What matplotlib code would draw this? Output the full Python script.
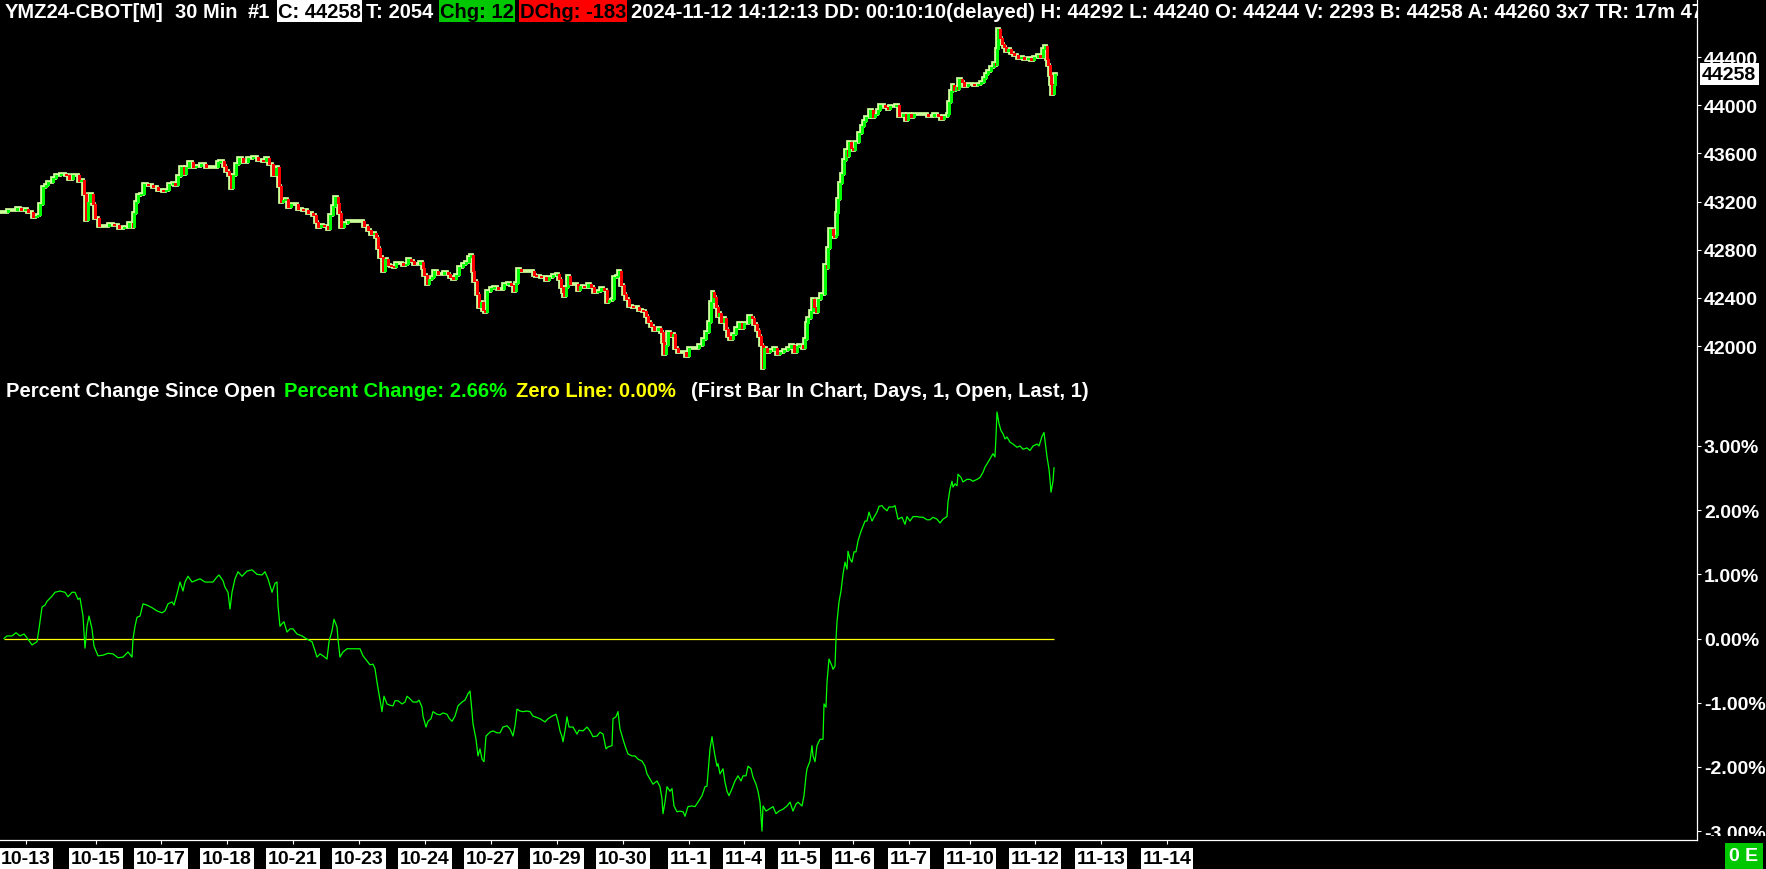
import matplotlib
matplotlib.use('Agg')
import matplotlib.pyplot as plt
from matplotlib import font_manager as fm
from matplotlib.lines import Line2D
from matplotlib.patches import Rectangle
from matplotlib.ticker import FuncFormatter
from matplotlib.transforms import Bbox, TransformedBbox
import numpy as np

W, H = 1766, 870

# ---- data ----
FIRST_OPEN = 43111.0     # open of first bar in chart
LAST_PRICE = 44258

bar_x = [
    4, 7, 12, 16, 20, 24, 27, 32, 35, 37, 39, 42, 45, 47, 52, 55, 60, 65, 68, 72,
    75, 78, 80, 83, 85, 87, 89, 92, 94, 98, 103, 108, 113, 118, 123, 128, 132, 133, 135, 137,
    140, 143, 147, 152, 157, 162, 165, 168, 172, 174, 177, 180, 183, 185, 188, 192, 195, 200, 205, 210,
    213, 217, 219, 223, 225, 228, 230, 232, 235, 238, 242, 247, 252, 257, 262, 265,
    268, 272, 275, 277, 278, 280, 282, 284, 287, 290, 293, 297, 302, 307, 312, 315, 317, 320, 323, 327,
    329, 332, 334, 337, 338, 340, 343, 347, 352, 357, 360, 363, 367, 370, 373, 375, 377, 379, 382, 384,
    387, 390, 393, 395, 398, 402, 405, 407, 410, 413, 417, 419, 422, 423, 426, 428, 431, 433, 437, 440,
    443, 447, 449, 452, 455, 458, 462, 465, 468, 470, 472, 473, 476, 478, 480, 482, 484, 486, 490, 493,
    497, 500, 503, 507, 510, 513, 515, 517, 520, 523, 527, 530, 533,
    535, 540, 545, 548, 552, 556, 558, 560, 562, 563, 565, 567, 569, 573, 577, 579, 583, 587, 590, 593,
    597, 600, 603, 606, 608, 612, 613, 616, 618, 620, 623, 625, 628, 632, 635, 638, 642, 645, 647, 650,
    653, 657, 660, 662, 663, 665, 667, 670, 672, 674, 677, 680, 683, 685, 688, 692, 695, 698, 702, 705,
    707, 708, 710, 712, 713, 715, 717, 718, 720, 723, 725, 727, 729, 732, 735, 738, 741, 743, 746, 748,
    751, 753, 756, 758, 760, 762, 763, 766, 769, 773, 776, 779, 783, 787, 790, 793, 796, 798,
    802, 804, 806, 807, 810, 812, 813, 815, 817, 820, 823, 824, 826, 827, 829, 832, 833, 835, 836, 837,
    839, 841, 843, 845, 847, 848, 850, 852, 854, 856, 858, 861, 863, 865, 867, 869, 872, 874, 877, 879,
    882, 884, 887, 889, 893, 895, 898, 902, 905, 907, 910, 913, 917, 920, 923, 927, 930, 933, 937, 940,
    943, 947, 948, 950, 952, 953, 955, 957, 958, 961, 963, 967, 970, 973, 977, 980, 983, 985, 987, 990,
    993, 995, 996, 997, 999, 1001, 1003, 1005, 1007, 1010, 1013, 1017, 1020, 1023, 1027, 1030, 1033, 1037, 1039, 1042,
    1044, 1046, 1047, 1049, 1050, 1051, 1053, 1054,
]

pct_change = [
    0.00, 0.04, 0.04, 0.09, 0.04, 0.07, 0.01, -0.10, -0.07, -0.05, 0.15, 0.49, 0.52, 0.58, 0.66, 0.72, 0.74, 0.72, 0.65, 0.72,
    0.72, 0.61, 0.63, 0.35, -0.15, 0.19, 0.35, 0.15, -0.12, -0.27, -0.26, -0.23, -0.24, -0.30, -0.29, -0.21, -0.29, -0.01, 0.19, 0.33,
    0.35, 0.54, 0.52, 0.48, 0.43, 0.40, 0.43, 0.54, 0.57, 0.52, 0.69, 0.88, 0.74, 0.88, 0.97, 0.88, 0.90, 0.93, 0.88, 0.88,
    0.88, 0.96, 0.99, 0.90, 0.80, 0.72, 0.46, 0.72, 0.93, 1.04, 0.97, 1.05, 1.07, 1.00, 0.99, 1.04,
    0.93, 0.72, 0.86, 0.88, 0.51, 0.19, 0.23, 0.26, 0.10, 0.15, 0.15, 0.07, 0.04, -0.01, -0.05, -0.19, -0.29, -0.24, -0.27, -0.32,
    -0.05, 0.12, 0.30, 0.18, -0.01, -0.29, -0.21, -0.16, -0.16, -0.16, -0.16, -0.27, -0.35, -0.41, -0.40, -0.47, -0.68, -0.86, -1.14, -0.90,
    -1.02, -1.04, -1.05, -0.97, -0.97, -1.02, -0.99, -0.90, -0.94, -0.99, -0.99, -0.96, -1.07, -1.21, -1.38, -1.29, -1.25, -1.14, -1.18, -1.19,
    -1.16, -1.18, -1.24, -1.29, -1.21, -1.05, -0.99, -0.96, -0.86, -0.82, -1.14, -1.33, -1.57, -1.83, -1.72, -1.88, -1.92, -1.52, -1.46, -1.44,
    -1.47, -1.47, -1.38, -1.36, -1.41, -1.52, -1.36, -1.10, -1.13, -1.14, -1.13, -1.14, -1.21,
    -1.22, -1.25, -1.30, -1.25, -1.21, -1.18, -1.29, -1.44, -1.53, -1.61, -1.44, -1.22, -1.38, -1.38, -1.49, -1.43, -1.44, -1.38, -1.44, -1.53,
    -1.52, -1.46, -1.49, -1.72, -1.69, -1.67, -1.25, -1.22, -1.14, -1.41, -1.57, -1.67, -1.80, -1.83, -1.83, -1.88, -1.91, -1.99, -2.11, -2.19,
    -2.27, -2.22, -2.31, -2.50, -2.73, -2.55, -2.31, -2.38, -2.34, -2.61, -2.70, -2.69, -2.70, -2.77, -2.62, -2.61, -2.62, -2.55, -2.45, -2.31,
    -2.30, -2.11, -1.72, -1.53, -1.64, -1.83, -1.99, -1.95, -2.11, -2.03, -2.24, -2.38, -2.45, -2.34, -2.22, -2.14, -2.22, -2.14, -2.14, -1.99,
    -2.03, -2.16, -2.27, -2.38, -2.55, -3.00, -2.61, -2.69, -2.66, -2.62, -2.73, -2.69, -2.66, -2.61, -2.55, -2.69, -2.58, -2.55,
    -2.61, -2.45, -2.14, -2.03, -1.91, -1.67, -1.83, -1.92, -1.67, -1.57, -1.57, -1.02, -1.07, -0.68, -0.32, -0.43, -0.48, -0.43, -0.01, 0.26,
    0.57, 0.74, 1.00, 1.19, 1.08, 1.36, 1.24, 1.19, 1.35, 1.35, 1.52, 1.67, 1.75, 1.83, 1.83, 1.97, 1.83, 1.89, 1.97, 2.06,
    2.07, 2.03, 1.99, 2.05, 2.05, 2.07, 1.86, 1.89, 1.78, 1.90, 1.83, 1.90, 1.90, 1.89, 1.89, 1.85, 1.85, 1.89, 1.86, 1.80,
    1.86, 1.90, 2.13, 2.33, 2.45, 2.36, 2.41, 2.38, 2.56, 2.51, 2.44, 2.48, 2.48, 2.45, 2.48, 2.51, 2.59, 2.67, 2.72, 2.80,
    2.88, 2.83, 3.15, 3.53, 3.35, 3.24, 3.19, 3.11, 3.14, 3.06, 3.03, 2.98, 3.00, 2.95, 2.97, 2.93, 3.00, 3.03, 3.00, 3.15,
    3.21, 2.95, 2.83, 2.64, 2.48, 2.28, 2.45, 2.66,
]

date_ticks = [26, 96, 161, 227, 293, 359, 425, 491, 557, 623, 689, 744, 799, 853, 909, 970, 1035, 1101, 1167]
date_labels = ['10-13', '10-15', '10-17', '10-18', '10-21', '10-23', '10-24', '10-27', '10-29', '10-30',
               '11-1', '11-4', '11-5', '11-6', '11-7', '11-10', '11-12', '11-13', '11-14']

price_ticks = [42000, 42400, 42800, 43200, 43600, 44000, 44400]
pct_ticks = [-3, -2, -1, 0, 1, 2, 3]

assert len(bar_x) == len(pct_change)


def pick_font(names):
    for n in names:
        try:
            fm.findfont(fm.FontProperties(family=n), fallback_to_default=False)
            return n
        except Exception:
            pass
    return 'DejaVu Sans'


FONT = pick_font(['Liberation Sans Narrow', 'Liberation Sans', 'DejaVu Sans'])
NARROW = 'Narrow' in FONT
FS_HEAD = 17 if NARROW else 14.5
FS = 16.5 if NARROW else 14
plt.rcParams['font.family'] = [FONT, 'DejaVu Sans']
plt.rcParams['font.weight'] = 'bold'

BG = 'black'
GREEN = '#00ff00'
RED = '#ff0000'
BODY = '#ccff99'
YELLOW = '#ffff00'
BOX_GREEN = '#00c800'

fig = plt.figure(figsize=(W / 100, H / 100), dpi=100, facecolor=BG)

AX_R = 1697  # right edge of chart area in px


def px_axes(top, bottom, right=AX_R):
    return fig.add_axes([0, 1 - bottom / H, right / W, (bottom - top) / H], facecolor=BG)


def px_text(x, y, s, **kw):
    return fig.text(x / W, 1 - y / H, s, **kw)


x = np.array(bar_x, dtype=float)
pct = np.array(pct_change)
closes = FIRST_OPEN * (1 + pct / 100)
opens = np.r_[FIRST_OPEN, closes[:-1]]

# ---- price panel ----
ax1 = px_axes(24, 372)
px_per_pt = 8.304
ax1.set_xlim(0, AX_R)
ax1.set_ylim(44000 - (372 - 106.2) * px_per_pt, 44000 + (106.2 - 24) * px_per_pt)
lo = np.minimum(opens, closes)
hi = np.maximum(opens, closes)
wick_cols = [GREEN if c >= o else RED for o, c in zip(opens, closes)]
ax1.plot(np.r_[0, x, x[-1] + 1.5], np.r_[FIRST_OPEN, closes, closes[-1]], drawstyle='steps-post',
         color=BODY, linewidth=2.7, solid_joinstyle='miter', zorder=3)
# coloured wick on the edge of each bar body
ax1.vlines(x + 1.3, lo, hi, colors=wick_cols, linewidth=0.75, antialiased=False, zorder=4)

ax1.yaxis.tick_right()
ax1.set_yticks(price_ticks)
ax1.yaxis.set_major_formatter(FuncFormatter(lambda v, p: f'{v:.0f}'))
ax1.tick_params(axis='y', colors='white', length=3, width=0.8, pad=2, labelsize=FS)
ax1.set_xticks([])
for s in ax1.spines.values():
    s.set_visible(False)
ax1.text(1.003, LAST_PRICE, f'{LAST_PRICE}', transform=ax1.get_yaxis_transform(),
         color='black', fontsize=FS, ha='left', va='center',
         bbox=dict(boxstyle='square,pad=0.12', fc='white', ec='none'))

# ---- percent change panel ----
ax2 = px_axes(378, 841)
ax2.set_xlim(0, AX_R)
ax2.set_ylim((639.5 - 841) / 64.17, (639.5 - 378) / 64.17)
ax2.hlines(0, x[0], x[-1], color=YELLOW, linewidth=0.9)
ax2.plot(x, pct, color=GREEN, linewidth=0.9)

ax2.yaxis.tick_right()
ax2.set_yticks(pct_ticks)
ax2.yaxis.set_major_formatter(FuncFormatter(lambda v, p: f'{v:.2f}%'))
ax2.tick_params(axis='y', colors='white', length=3, width=0.8, pad=2, labelsize=FS)
ax2.set_xticks(date_ticks)
ax2.set_xticklabels(date_labels)
ax2.tick_params(axis='x', colors='white', length=3, width=0.8, pad=4, labelsize=FS)
for lbl in ax2.get_xticklabels():
    lbl.set_color('black')
    lbl.set_bbox(dict(boxstyle='square,pad=0.1', fc='white', ec='none'))
for s in ax2.spines.values():
    s.set_visible(False)

# the bottom percent label is cut by the panel edge
clip = TransformedBbox(Bbox([[AX_R / W, 1 - 837 / H], [1, 1 - 378 / H]]), fig.transFigure)
for lbl in ax2.get_yticklabels():
    lbl.set_clip_box(clip)
    lbl.set_clip_on(True)

# frame lines
fig.add_artist(Line2D([AX_R / W] * 2, [1, 1 - 841 / H], color='white', linewidth=0.9,
                      transform=fig.transFigure))
fig.add_artist(Line2D([0, AX_R / W], [1 - 841 / H] * 2, color='white', linewidth=0.9,
                      transform=fig.transFigure))

# ---- header line ----
axh = px_axes(0, 24)
axh.set_xlim(0, AX_R)
axh.set_ylim(24, 0)
axh.axis('off')
header = [
    ('YMZ24-CBOT[M]', 'white', None, 11),
    ('30 Min', 'white', None, 10),
    ('#1', 'white', None, 7),
    ('C: 44258', 'black', 'white', 4),
    ('T: 2054', 'white', None, 6),
    ('Chg: 12', 'black', BOX_GREEN, 4),
    ('DChg: -183', 'black', RED, 4),
    ('2024-11-12 14:12:13 DD: 00:10:10(delayed) H: 44292 L: 44240 O: 44244 '
     'V: 2293 B: 44258 A: 44260 3x7 TR: 17m 47s', 'white', None, 0),
]
renderer = fig.canvas.get_renderer()
inv = axh.transData.inverted()
hx = 5
for s, fg, bg, gap in header:
    if bg:
        hx += 1
    t = axh.text(hx, 12, s, color=fg, fontsize=FS_HEAD, ha='left', va='center',
                 clip_on=True, zorder=3)
    bb = t.get_window_extent(renderer)
    (x0, _), (x1, _) = inv.transform([[bb.x0, bb.y0], [bb.x1, bb.y1]])
    if bg:
        axh.add_patch(Rectangle((x0 - 1, 0.5), x1 - x0 + 2, 22.5, fc=bg, ec='none', zorder=2))
        x1 += 1
    hx = x1 + gap

# ---- study header ----
study = [
    (6, 'Percent Change Since Open', 'white'),
    (284, 'Percent Change: 2.66%', GREEN),
    (516, 'Zero Line: 0.00%', YELLOW),
    (691, '(First Bar In Chart, Days, 1, Open, Last, 1)', 'white'),
]
for sx, s, c in study:
    px_text(sx, 392, s, color=c, fontsize=FS_HEAD, ha='left', va='center')

px_text(1744, 857, '0 E', color='white', fontsize=FS, ha='center', va='center',
        bbox=dict(boxstyle='square,pad=0.22', fc=BOX_GREEN, ec='none'))

fig.savefig('out.png', dpi=100, facecolor=BG)
